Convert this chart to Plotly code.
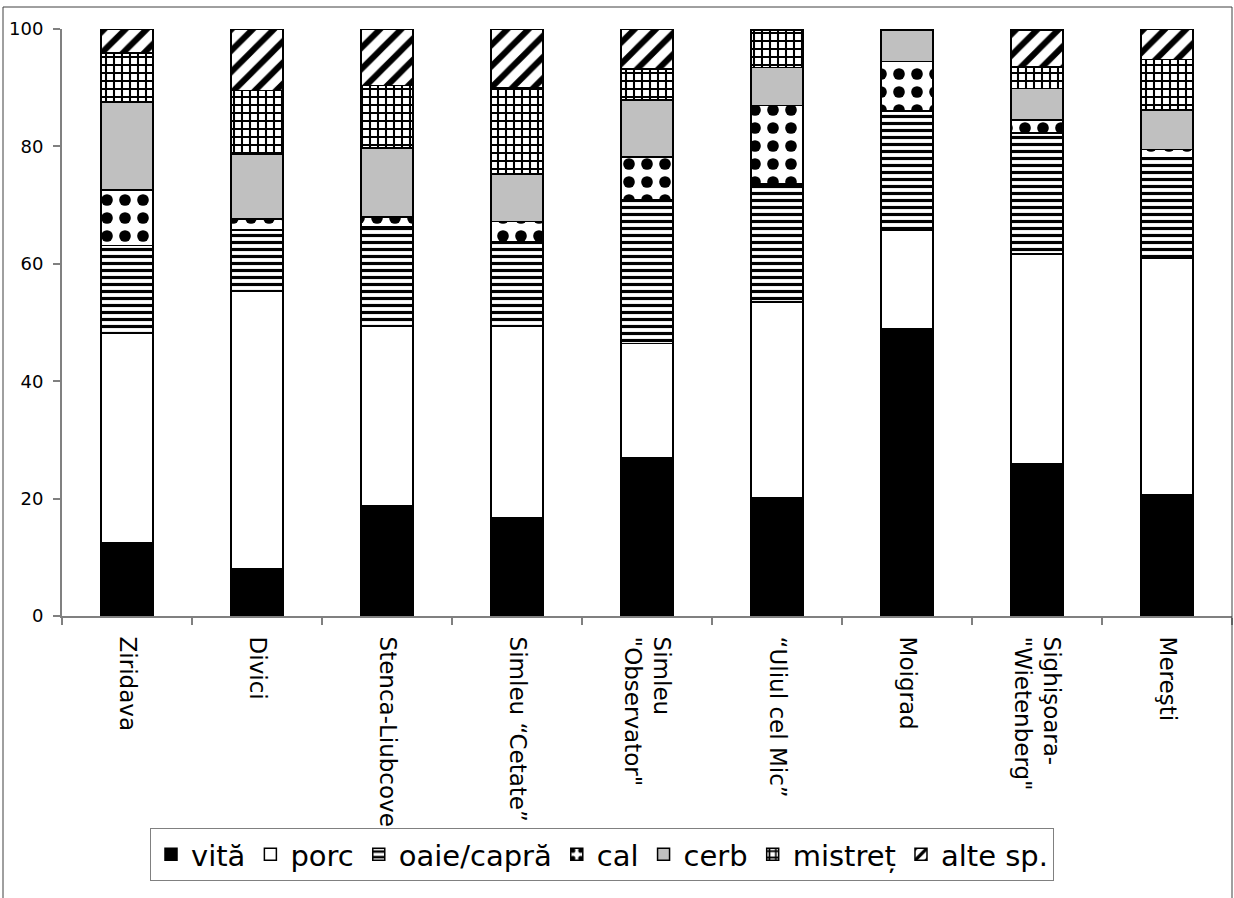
import plotly.graph_objects as go

# Sites (x categories)
sites = [
    "Ziridava",
    "Divici",
    "Stenca-Liubcovei",
    "Simleu “Cetate”",
    "Simleu<br>\"Observator\"",
    "“Uliul cel Mic”",
    "Moigrad",
    "Sighişoara-<br>\"Wietenberg\"",
    "Mereşti",
]

# Percentage of remains per species at each site
vita = [12.4, 8.0, 18.8, 16.8, 27.0, 20.2, 48.9, 26.0, 20.6]
porc = [35.8, 47.3, 30.6, 32.6, 19.4, 33.3, 16.9, 35.7, 40.4]
oaie_capra = [14.9, 10.5, 16.9, 14.4, 24.5, 20.1, 20.2, 20.6, 17.1]
cal = [9.5, 1.8, 1.7, 3.4, 7.3, 13.4, 8.5, 2.2, 1.4]
cerb = [15.0, 11.1, 11.7, 8.1, 9.7, 6.4, 5.3, 5.4, 6.7]
mistret = [8.3, 10.8, 10.7, 14.7, 5.3, 6.4, 0.0, 3.6, 8.6]
alte_sp = [4.1, 10.5, 9.6, 10.0, 6.8, 0.0, 0.0, 6.3, 5.2]

y_ticks = [0, 20, 40, 60, 80, 100]

FONT = "DejaVu Sans"
AXIS_GREY = "#808080"


def hatch(shape, size, solidity):
    return dict(shape=shape, size=size, solidity=solidity, fgcolor="black",
                fgopacity=1, bgcolor="white", fillmode="replace")


series = [
    ("vită", vita, dict(color="black")),
    ("porc", porc, dict(color="white")),
    ("oaie/capră", oaie_capra, dict(color="white", pattern=hatch("-", 7, 0.45))),
    ("cal", cal, dict(color="white", pattern=hatch(".", 18, 0.33))),
    ("cerb", cerb, dict(color="#c0c0c0")),
    ("mistreț", mistret, dict(color="white", pattern=hatch("+", 8, 0.45))),
    ("alte sp.", alte_sp, dict(color="white", pattern=hatch("/", 15, 0.4))),
]

fig = go.Figure()
for name, values, marker in series:
    marker = dict(marker)
    marker["line"] = dict(color="black", width=1.5)
    fig.add_trace(go.Bar(x=sites, y=values, name=name, marker=marker))

# outer frame of the chart area
frame = dict(type="line", xref="paper", yref="paper", line=dict(color="#404040", width=1))
x_left, x_right = (3 - 62) / 1170, 1.0
y_top, y_bottom = (616 - 7) / 587, (616 - 900) / 587
fig.add_shape(**frame, x0=x_left, x1=x_left, y0=y_bottom, y1=y_top)
fig.add_shape(**frame, x0=x_left, x1=x_right, y0=y_top, y1=y_top)
fig.add_shape(**frame, x0=x_right, x1=x_right, y0=y_bottom, y1=y_top)

fig.update_layout(
    width=1234,
    height=898,
    margin=dict(l=62, r=2, t=29, b=282),
    paper_bgcolor="white",
    plot_bgcolor="white",
    barmode="stack",
    bargap=0.6,
    font=dict(family=FONT, color="black"),
    showlegend=True,
    legend=dict(
        orientation="h",
        traceorder="normal",
        x=(150 - 62) / 1170,
        xanchor="left",
        y=(616 - 828) / 587,
        yanchor="top",
        bgcolor="white",
        bordercolor=AXIS_GREY,
        borderwidth=1,
        font=dict(family=FONT, size=29, color="black"),
        itemwidth=30,
    ),
    xaxis=dict(
        type="category",
        tickangle=90,
        tickson="boundaries",
        ticks="outside",
        ticklen=7,
        tickcolor=AXIS_GREY,
        tickwidth=1.5,
        showline=True,
        linecolor=AXIS_GREY,
        linewidth=2,
        showgrid=False,
        tickfont=dict(family=FONT, size=23, color="black"),
        ticklabelstandoff=14,
    ),
    yaxis=dict(
        range=[0, 100],
        tickvals=y_ticks,
        ticks="outside",
        ticklen=7,
        tickcolor=AXIS_GREY,
        tickwidth=1.5,
        showline=True,
        linecolor=AXIS_GREY,
        linewidth=2,
        showgrid=False,
        zeroline=False,
        tickfont=dict(family=FONT, size=18, color="black"),
        ticklabelstandoff=6,
    ),
)

fig.write_html("out.html")
